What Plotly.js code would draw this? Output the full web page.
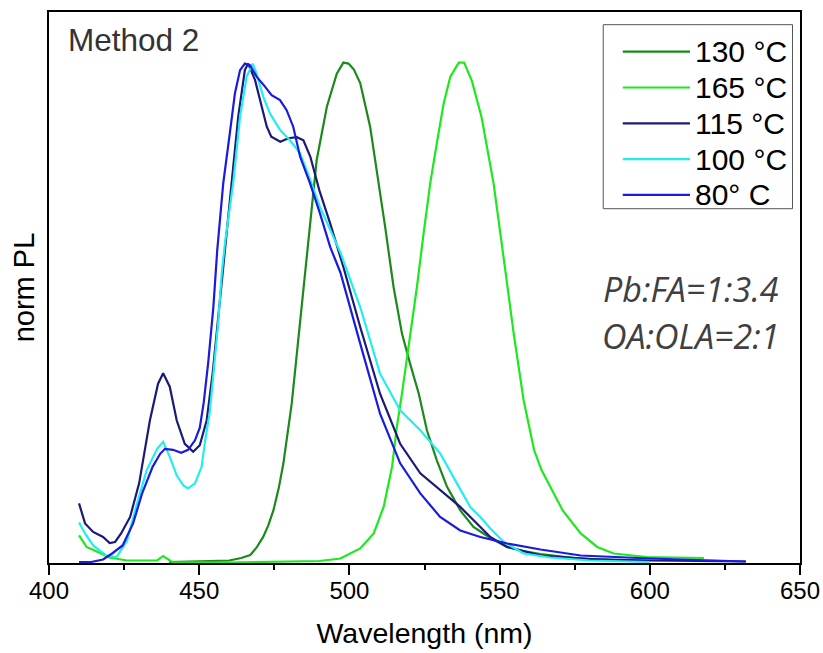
<!DOCTYPE html>
<html>
<head>
<meta charset="utf-8">
<script src="https://cdn.plot.ly/plotly-3.0.1.min.js"></script>
<style>html,body{margin:0;padding:0;background:#fff;}#chart{width:823px;height:653px;}</style>
</head>
<body>
<div id="chart"></div>
<script>
// ---- data ----
var seriesNames = ["130 °C", "165 °C", "115 °C", "100 °C", "80° C"];

var wl130 = [440,452,460,464,467,469,471.3,473,474.7,476.5,478,480.8,483.6,486.3,489.1,492.5,495.8,498,499.7,501.5,503.6,506.9,509.1,511.9,514.7,517.5,520.2,523.1,525.8,529.1,532.5,536.9,541.3,546.9,552.5,558,563.6,575,588,600];
var pl130 = [0.002,0.003,0.005,0.01,0.016,0.03,0.052,0.075,0.105,0.15,0.198,0.318,0.478,0.645,0.804,0.911,0.977,0.999,0.997,0.985,0.958,0.871,0.785,0.671,0.551,0.458,0.398,0.338,0.265,0.205,0.152,0.105,0.072,0.05,0.032,0.024,0.018,0.01,0.006,0.004];

var wl165 = [410,412.5,417,420,426,436,438,441,460,480,490,497,503.6,508.1,511.4,514.2,515.8,517.5,519.1,520.8,522.5,524.7,526.9,529.1,531.4,533.6,536.4,538.2,540.8,544,548,551.3,554.7,558,561.5,564,567,571,577,582.5,588,599,618];
var pl165 = [0.055,0.032,0.02,0.011,0.005,0.005,0.014,0.002,0.001,0.002,0.004,0.009,0.029,0.059,0.112,0.192,0.272,0.338,0.405,0.472,0.552,0.658,0.758,0.838,0.918,0.971,0.999,0.999,0.962,0.89,0.758,0.611,0.458,0.325,0.225,0.185,0.152,0.105,0.059,0.032,0.019,0.012,0.01];

var wl115 = [410,412,414.7,418,420.2,422,424,427,430,433.6,436.3,438,440.2,442.5,445.2,448,450.2,452.5,454.5,456.5,458.5,460.8,463,465.2,466.3,468.6,470.8,472.5,474,477,479.7,482.5,484.7,487,490,493.6,498,503.6,510.2,516.9,523.6,530.2,536.9,543.6,546.9,552.5,563.6,580,600,632];
var pl115 = [0.119,0.079,0.062,0.052,0.04,0.042,0.059,0.092,0.159,0.285,0.358,0.379,0.352,0.285,0.238,0.222,0.235,0.285,0.38,0.5,0.624,0.758,0.891,0.984,0.997,0.964,0.911,0.871,0.851,0.841,0.848,0.85,0.844,0.811,0.744,0.678,0.591,0.471,0.338,0.238,0.179,0.145,0.112,0.072,0.052,0.032,0.015,0.008,0.005,0.003];

var wl100 = [410,412,414.7,419,422.5,426,429,432.5,436,438,440.2,442.5,444.7,446.3,448.6,450.8,452,453.5,454.7,456.3,457.5,458.6,461.3,463.6,465.8,467.8,469.1,471.3,473.6,477,480.2,483.6,487,490.2,497,503.6,510.2,516.9,523.6,530.2,535.8,540.2,543.6,546.9,551.4,558,566.9,580,600];
var pl100 = [0.081,0.059,0.035,0.015,0.012,0.045,0.112,0.185,0.228,0.242,0.212,0.175,0.155,0.149,0.159,0.192,0.245,0.3,0.375,0.478,0.578,0.64,0.758,0.891,0.971,0.997,0.977,0.931,0.897,0.864,0.844,0.818,0.764,0.711,0.62,0.511,0.378,0.305,0.265,0.219,0.159,0.112,0.092,0.069,0.042,0.019,0.011,0.005,0.002];

var wl80 = [410,414,418,421,424.5,428,431,434.5,437,438.6,441.3,444,446.3,448.6,450.2,451.5,453,454.7,456,458,460.2,461.9,463.6,465.2,466.9,469.1,471.9,474.1,476.9,479.1,481.3,483.6,486.9,490.2,493.6,497,503.6,510.2,516.9,523.6,530.2,536.9,543.6,552.5,563.6,577,600,615,632];
var pl80 = [0.002,0.002,0.007,0.019,0.035,0.079,0.139,0.192,0.218,0.228,0.226,0.22,0.226,0.245,0.27,0.32,0.4,0.51,0.624,0.758,0.858,0.938,0.984,0.997,0.994,0.971,0.951,0.934,0.924,0.904,0.871,0.811,0.758,0.698,0.631,0.58,0.438,0.298,0.199,0.139,0.092,0.065,0.052,0.039,0.027,0.015,0.009,0.006,0.003];

var xTickVals = [400, 450, 500, 550, 600, 650];
var xTickText = ["400", "450", "500", "550", "600", "650"];

// ---- styling ----
var colors = ["#1b8a1b", "#1ee81e", "#1a1a78", "#22eeee", "#1a1ae0"];
var xs = [wl130, wl165, wl115, wl100, wl80];
var ys = [pl130, pl165, pl115, pl100, pl80];
var sansFont = "Liberation Sans, Arial, sans-serif";

var traces = [];
for (var i = 0; i < seriesNames.length; i++) {
  traces.push({
    type: "scatter", mode: "lines", name: seriesNames[i],
    x: xs[i], y: ys[i],
    line: {color: colors[i], width: 2.2},
    showlegend: false, hoverinfo: "x+y+name"
  });
}

// manual legend (box + line samples + labels), positioned in paper coords
var shapes = [{
  type: "rect", xref: "paper", yref: "paper",
  x0: 0.738, x1: 0.990, y0: 0.643, y1: 0.977,
  line: {color: "#555555", width: 1}, fillcolor: "rgba(255,255,255,0)"
}];
var annotations = [];
var rowY = [0.928, 0.863, 0.798, 0.733, 0.668];
for (var j = 0; j < seriesNames.length; j++) {
  shapes.push({
    type: "line", xref: "paper", yref: "paper",
    x0: 0.764, x1: 0.8535, y0: rowY[j], y1: rowY[j],
    line: {color: colors[j], width: 2.2}
  });
  annotations.push({
    xref: "paper", yref: "paper", x: 0.858, y: rowY[j],
    xanchor: "left", yanchor: "middle", showarrow: false,
    text: seriesNames[j],
    font: {family: sansFont, size: 30, color: "#000"}
  });
}
annotations.push({
  xref: "paper", yref: "paper", x: 0.022, y: 0.949,
  xanchor: "left", yanchor: "middle", showarrow: false,
  text: "Method 2", font: {family: sansFont, size: 31.5, color: "#333333"}
});
annotations.push({
  xref: "paper", yref: "paper", x: 0.975, y: 0.497,
  xanchor: "right", yanchor: "middle", showarrow: false,
  text: "<i>Pb:FA=1:3.4</i>", font: {family: "Open Sans, sans-serif", size: 34, color: "#404040"}
});
annotations.push({
  xref: "paper", yref: "paper", x: 0.975, y: 0.412,
  xanchor: "right", yanchor: "middle", showarrow: false,
  text: "<i>OA:OLA=2:1</i>", font: {family: "Open Sans, sans-serif", size: 34, color: "#404040"}
});

var layout = {
  width: 823, height: 653,
  margin: {l: 49, r: 23, t: 12, b: 90},
  paper_bgcolor: "#fff", plot_bgcolor: "#fff",
  showlegend: false,
  xaxis: {
    range: [400, 650], tickmode: "array", tickvals: xTickVals, ticktext: xTickText,
    ticks: "outside", ticklen: 10, tickwidth: 2, tickcolor: "#000",
    ticklabelstandoff: -5,
    minor: {dtick: 25, tick0: 400, ticks: "outside", ticklen: 5, tickwidth: 2, tickcolor: "#000", showgrid: false},
    showline: true, linewidth: 2, linecolor: "#000", mirror: true,
    showgrid: false, zeroline: false,
    tickfont: {family: sansFont, size: 24, color: "#000"},
    title: {text: "Wavelength (nm)", font: {family: sansFont, size: 28.5, color: "#000"}, standoff: 20}
  },
  yaxis: {
    range: [0, 1.1], showticklabels: false, ticks: "",
    showline: true, linewidth: 2, linecolor: "#000", mirror: true,
    showgrid: false, zeroline: false,
    title: {text: "norm PL", font: {family: sansFont, size: 29, color: "#000"}, standoff: 4}
  },
  shapes: shapes,
  annotations: annotations
};

Plotly.newPlot("chart", traces, layout, {displayModeBar: false, staticPlot: false});
</script>
</body>
</html>
